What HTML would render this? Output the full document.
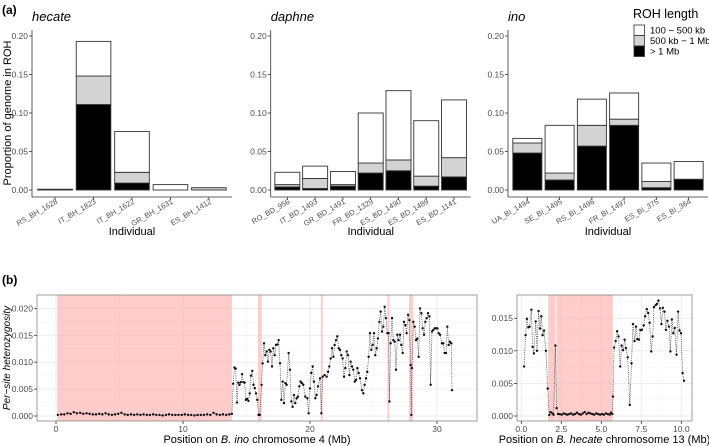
<!DOCTYPE html>
<html><head><meta charset="utf-8"><style>
body{margin:0;background:#fff}
svg{display:block;font-family:"Liberation Sans",sans-serif}
</style></head><body>
<svg id="s" width="709" height="446" viewBox="0 0 709 446"></svg>
<script>
// ---- Panel (a) data ----
const hecateIds=["RS_BH_1628","IT_BH_1823","IT_BH_1622","GR_BH_1631","ES_BH_1412"];
const hecateLong=[0.0005,0.111,0.009,0,0];
const hecateMid=[0.0008,0.148,0.023,0,0.003];
const hecateTotal=[0.001,0.193,0.076,0.007,0.003];
const daphneIds=["RO_BD_956","IT_BD_1493","GR_BD_1491","FR_BD_1329","ES_BD_1490","ES_BD_1489","ES_BD_1141"];
const daphneLong=[0.004,0.002,0.005,0.022,0.025,0.005,0.017];
const daphneMid=[0.007,0.015,0.007,0.035,0.039,0.018,0.042];
const daphneTotal=[0.023,0.031,0.024,0.100,0.129,0.090,0.117];
const inoIds=["UA_BI_1494","SE_BI_1495","RS_BI_1496","FR_BI_1497","ES_BI_375","ES_BI_364"];
const inoLong=[0.048,0.013,0.057,0.084,0.003,0.014];
const inoMid=[0.061,0.022,0.084,0.092,0.011,0.014];
const inoTotal=[0.067,0.084,0.118,0.126,0.035,0.037];
const yTicksA=[0,0.05,0.10,0.15,0.20];
const yTickLabelsA=["0.00","0.05","0.10","0.15","0.20"];
// ---- Panel (b) data: B. ino chr 4 (Mb, heterozygosity x1000) ----
const inoPos=[0.15,0.4,0.65,0.9,1.15,1.4,1.65,1.9,2.15,2.4,2.65,2.9,3.15,3.4,3.65,3.9,4.15,4.4,4.65,4.9,5.15,5.4,5.65,5.9,6.15,6.4,6.65,6.9,7.15,7.4,7.65,7.9,8.15,8.4,8.65,8.9,9.15,9.4,9.65,9.9,10.15,10.4,10.65,10.9,11.15,11.4,11.65,11.9,12.15,12.4,12.65,12.9,13.15,13.4,13.65,
13.85,13.95,14.05,14.15,14.25,14.35,14.45,14.55,14.65,14.75,14.85,14.95,15.05,15.15,15.25,15.35,15.45,15.55,15.65,15.75,15.85,15.95,16.05,
16.19,16.27,16.38,16.48,16.59,16.69,16.80,16.90,17.01,17.11,17.22,17.32,17.43,17.53,17.64,17.74,17.85,17.95,18.06,18.16,18.32,18.42,18.53,18.63,18.74,18.84,18.95,19.05,19.16,19.26,19.37,19.47,19.63,19.79,19.89,20.00,20.10,20.21,20.31,20.42,20.52,20.63,20.79,20.89,21.00,21.15,21.31,21.42,21.52,21.63,21.73,21.84,21.94,22.05,22.15,22.26,22.36,22.47,22.57,22.68,22.78,22.89,22.99,23.10,23.20,23.31,23.41,23.52,23.62,23.73,23.83,23.94,24.09,24.20,24.30,24.41,24.51,24.62,24.72,24.83,24.93,25.04,25.14,25.25,25.35,25.46,25.56,25.67,25.77,25.88,25.98,26.09,26.19,26.25,26.35,26.46,26.56,26.67,26.77,26.88,26.98,27.09,27.19,27.30,27.40,27.51,27.61,27.72,27.82,27.93,27.98,28.03,28.14,28.24,28.35,28.45,28.56,28.66,28.77,28.87,28.98,29.08,29.19,29.29,29.40,29.50,29.61,29.71,29.82,29.92,30.03,30.13,30.24,30.39,30.50,30.60,30.71,30.81,30.92,31.02,31.13,31.18];
const inoHet=[0.2,0.3,0.3,0.5,0.4,0.7,0.5,0.6,0.4,0.5,0.4,0.3,0.3,0.4,0.3,0.5,0.3,0.2,0.3,0.4,0.6,0.3,0.2,0.3,0.2,0.3,0.2,0.3,0.2,0.2,0.3,0.2,0.2,0.1,0.2,0.3,0.2,0.2,0.2,0.2,0.3,0.2,0.2,0.1,0.2,0.2,0.2,0.3,0.2,0.6,0.3,0.2,0.3,0.2,0.3,
0.4,6.0,9.0,8.8,2.5,6.2,5.8,6.3,7.8,6.3,6.2,3.0,3.2,2.8,4.2,7.5,8.4,5.8,5.2,4.2,3.0,0.2,0.2,
5.8,9.8,13.5,11.3,12,10.1,12.3,12,9.2,12.6,11.3,13.2,13.3,14.1,9.8,3,6.4,2.4,6.1,5.8,11.7,8.6,2.7,1.7,3.9,2.4,3.3,3.6,5.5,6.4,6.1,5.8,3.6,3.3,0.5,5.1,8,9.2,6.4,3.3,3.9,5.5,7,0.5,7.3,7.6,7.3,8.2,9.2,10.7,12.6,11,13.2,14.1,14.8,12.6,12.3,11.3,10.7,7.3,8.9,12,11.3,7.6,10.1,9.2,8.6,6.4,6.7,8.9,8,7,4.8,4.2,5.8,7,8.2,11,15.4,12.3,13.2,15.4,11.3,12.6,14.4,17.5,19.4,15.7,16.6,20.3,18.2,15.4,15.4,2.7,13.5,18.2,14.1,13.8,8.6,15.1,14.1,15.1,13.2,11.7,17.5,16.9,15.4,18.8,17.8,9.5,0.2,8.9,17.5,16.6,14.1,14.4,11,20,19.1,16.3,15.1,17.5,18.2,19.1,18.5,5.8,15.7,16,16.3,16.3,16.3,15.4,15.1,13.5,13.5,11.7,11.7,16.6,13.2,13.8,13.5,4.8];
const inoRoh=[[0.1,13.85],[15.9,16.2],[20.85,21.0],[26.1,26.25],[27.8,28.1]];
// ---- B. hecate chr 13 ----
const hecPos=[0.17,0.27,0.35,0.44,0.52,0.63,0.71,0.79,0.90,0.98,1.08,1.17,1.25,1.33,1.42,1.54,1.65,1.75,1.83,1.94,2.02,2.13,2.21,2.29,
2.4,2.52,2.64,2.76,2.88,3.0,3.12,3.24,3.36,3.48,3.6,3.72,3.84,3.96,4.08,4.2,4.32,4.44,4.56,4.68,4.8,4.92,5.04,5.16,5.28,5.4,5.52,5.6,
5.69,5.73,5.80,5.90,5.99,6.08,6.18,6.27,6.36,6.46,6.54,6.65,6.78,6.89,6.98,7.08,7.17,7.25,7.35,7.44,7.53,7.65,7.74,7.84,7.93,8.02,8.12,8.21,8.29,8.40,8.48,8.57,8.67,8.76,8.85,8.95,9.04,9.13,9.23,9.32,9.41,9.50,9.59,9.70,9.80,9.89,9.98,10.08,10.17];
const hecHet=[7.6,12.4,14.9,13.6,13.7,16.3,10.6,9.6,14.5,10,16.1,13.4,15.3,12.4,13.1,10,4.2,0.15,0.6,0.4,0.2,10.8,1.2,0.3,
0.3,0.2,0.4,0.3,0.2,0.3,0.4,0.2,0.3,0.5,0.3,0.2,0.4,0.6,0.3,0.5,0.4,0.3,0.2,0.4,0.3,0.2,0.3,0.2,0.4,0.3,0.2,0.5,
0.3,3,10.5,11.5,13,12.2,7.6,10.8,10.1,11.7,10.4,9,1.7,8.1,14.1,11.5,13.7,11.8,11.7,13.2,13.2,13.9,15.3,16.4,15.8,14.3,9.9,12.2,16.7,17,17.2,17.7,16.5,14.1,16.6,16,13.2,14.6,13.7,9.9,14.8,12.7,13.5,9.4,16,13.1,12.7,6.6,5.4];
const hecRoh=[[1.68,2.15],[2.2,5.72]];
const inoXTicks=[0,10,20,30];
const hecXTicks=[0,2.5,5,7.5,10];
const hecXTickLabels=["0.0","2.5","5.0","7.5","10.0"];

const NS="http://www.w3.org/2000/svg";
const svg=document.getElementById('s');
function mk(tag,attrs,parent){const e=document.createElementNS(NS,tag);for(const k in attrs)e.setAttribute(k,attrs[k]);(parent||svg).appendChild(e);return e;}
function txt(str,attrs,parent){const e=mk('text',attrs,parent);e.textContent=str;return e;}

// ---- Panel a ----
const a0=190, a20=36;
const ya=v=>a0-(v/0.20)*(a0-a20);
txt("(a)",{x:2,y:14,'font-size':12,'font-weight':'bold'});
function barPanel(name,x0,ids,lng,mid,tot){
  const g=mk('g',{});
  
  
  const w=200,n=ids.length,unit=w/(n+0.2);
  const t=txt(name,{x:x0,y:21,'font-size':13,'font-style':'italic',fill:'#000'},g);
  
  
  mk('line',{x1:x0,y1:30,x2:x0,y2:197,stroke:'#333','stroke-width':0.8},g);
  mk('line',{x1:x0,y1:197,x2:x0+w,y2:197,stroke:'#333','stroke-width':0.8},g);
  yTicksA.forEach((v,i)=>{
    mk('line',{x1:x0-3,y1:ya(v),x2:x0,y2:ya(v),stroke:'#333','stroke-width':0.8},g);
    const l=txt(yTickLabelsA[i],{x:x0-4,y:ya(v)+3,'font-size':8.5,fill:'#4d4d4d','text-anchor':'end'},g);
    
    
  });
  ids.forEach((id,i)=>{
    const cx=x0+unit*(0.6+i), bw=unit*0.9, bx=cx-bw/2;
    const segs=[[0,lng[i],'#000'],[lng[i],mid[i],'#d3d3d3'],[mid[i],tot[i],'#fff']];
    segs.forEach((s,j)=>{
      if(s[1]-s[0]<=0)return;
      const r=mk('rect',{x:bx,y:ya(s[1]),width:bw,height:ya(s[0])-ya(s[1]),fill:s[2],stroke:'#333','stroke-width':0.9},g);
      
      
    });
    mk('line',{x1:cx,y1:197,x2:cx,y2:200,stroke:'#333','stroke-width':0.8},g);
    const l=txt(id,{x:cx+3,y:203,'font-size':7.5,fill:'#4d4d4d','text-anchor':'end',transform:`rotate(-30 ${cx+3} 203)`},g);
    
    
  });
  const xt=txt("Individual",{x:x0+w/2,y:235,'font-size':11,'text-anchor':'middle'},g);
  
  
}
barPanel('hecate',32,hecateIds,hecateLong,hecateMid,hecateTotal);
barPanel('daphne',270.7,daphneIds,daphneLong,daphneMid,daphneTotal);
barPanel('ino',508,inoIds,inoLong,inoMid,inoTotal);
const yt=txt("Proportion of genome in ROH",{x:11,y:113,'font-size':11,'text-anchor':'middle',transform:'rotate(-90 11 113)'});


// legend
const lg=mk('g',{});


txt("ROH length",{x:633,y:18,'font-size':12.5},lg);
[["100 − 500 kb",'#fff'],["500 kb − 1 Mb",'#d3d3d3'],["> 1 Mb",'#000']].forEach((e,i)=>{
  const y=25+i*10.5;
  const r=mk('rect',{x:634,y:y,width:10.5,height:10.5,fill:e[1],stroke:'#333','stroke-width':0.8},lg);
  
  
  txt(e[0],{x:650,y:y+8.5,'font-size':9.5},lg);
});

// ---- Panel b ----
txt("(b)",{x:2,y:284,'font-size':12,'font-weight':'bold'});
function linePanel(name,box,pxX0,pxPerX,pxPerY,pos,het,roh,xticks,xlabels,yticks,ylabels,title){
  const g=mk('g',{});
  
  
  const xs=v=>pxX0+v*pxPerX, ys=v=>416-v*pxPerY;
  mk('rect',{x:box[0],y:box[1],width:box[2]-box[0],height:box[3]-box[1],fill:'#fff'},g);
  const minorY=[],minorX=[];
  for(let i=0;i<yticks.length;i++){minorY.push(yticks[i]+(yticks[1]-yticks[0])/2);}
  for(let i=-1;i<xticks.length;i++){minorX.push((i<0?xticks[0]-(xticks[1]-xticks[0]):xticks[i])+(xticks[1]-xticks[0])/2);}
  minorY.forEach(v=>{const y=ys(v);if(y>box[1]&&y<box[3])mk('line',{x1:box[0],x2:box[2],y1:y,y2:y,stroke:'#f2f2f2','stroke-width':0.5},g);});
  minorX.forEach(v=>{const x=xs(v);if(x>box[0]&&x<box[2])mk('line',{x1:x,x2:x,y1:box[1],y2:box[3],stroke:'#f2f2f2','stroke-width':0.5},g);});
  yticks.forEach(v=>mk('line',{x1:box[0],x2:box[2],y1:ys(v),y2:ys(v),stroke:'#ebebeb','stroke-width':0.9},g));
  xticks.forEach(v=>mk('line',{x1:xs(v),x2:xs(v),y1:box[1],y2:box[3],stroke:'#ebebeb','stroke-width':0.9},g));
  roh.forEach(r=>{
    const e=mk('rect',{x:xs(r[0]),y:box[1],width:xs(r[1])-xs(r[0]),height:box[3]-box[1],fill:'#ff9999','fill-opacity':0.5},g);
    
    
  });
  let d='';pos.forEach((p,i)=>{d+=(i?'L':'M')+xs(p).toFixed(1)+' '+ys(het[i]/1000).toFixed(1);});
  const ln=mk('path',{d:d,fill:'none',stroke:'#333','stroke-width':0.7,'stroke-dasharray':'1 1.2'},g);
  
  
  pos.forEach((p,i)=>{
    const c=mk('circle',{cx:xs(p),cy:ys(het[i]/1000),r:1.2,fill:'#111'},g);
    
    
  });
  mk('rect',{x:box[0],y:box[1],width:box[2]-box[0],height:box[3]-box[1],fill:'none',stroke:'#888','stroke-width':0.8},g);
  yticks.forEach((v,i)=>{
    mk('line',{x1:box[0]-3,x2:box[0],y1:ys(v),y2:ys(v),stroke:'#333','stroke-width':0.8},g);
    const l=txt(ylabels[i],{x:box[0]-4,y:ys(v)+3,'font-size':8.5,fill:'#4d4d4d','text-anchor':'end'},g);
    
    
  });
  xticks.forEach((v,i)=>{
    mk('line',{x1:xs(v),x2:xs(v),y1:box[3],y2:box[3]+3,stroke:'#333','stroke-width':0.8},g);
    const l=txt(xlabels[i],{x:xs(v),y:432,'font-size':8.5,fill:'#4d4d4d','text-anchor':'middle'},g);
    
    
  });
  const t=mk('text',{x:(box[0]+box[2])/2,y:443,'font-size':11,'text-anchor':'middle'},g);
  t.innerHTML='Position on <tspan font-style="italic">'+title[0]+'</tspan> '+title[1];
  
  
}
linePanel('ino-chr4',[37,295,477,421],56,12.7,26.9/0.005,inoPos,inoHet,inoRoh,
  inoXTicks,inoXTicks.map(String),[0,0.005,0.01,0.015,0.02],["0.000","0.005","0.010","0.015","0.020"],["B. ino","chromosome 4 (Mb)"]);
linePanel('hecate-chr13',[517,295,692,421],521.3,16,32.6/0.005,hecPos,hecHet,hecRoh,
  hecXTicks,hecXTickLabels,[0,0.005,0.01,0.015],["0.000","0.005","0.010","0.015"],["B. hecate","chromosome 13 (Mb)"]);
const yb=txt("Per−site heterozygosity",{x:10,y:358,'font-size':10,'text-anchor':'middle','font-style':'italic',transform:'rotate(-90 10 358)'});


</script>
</body></html>
